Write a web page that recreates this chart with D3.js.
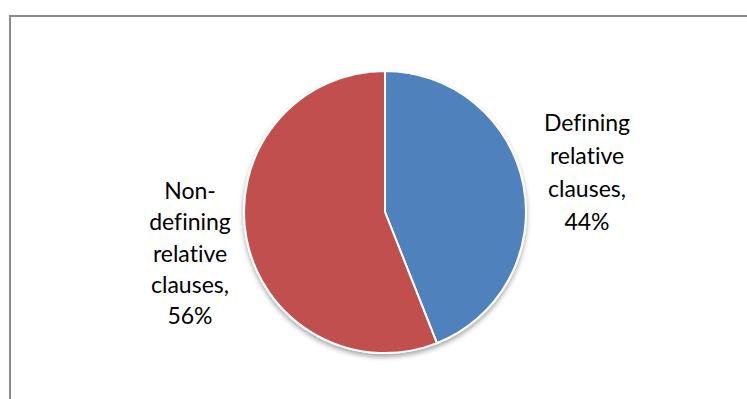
<!DOCTYPE html>
<html>
<head>
<meta charset="utf-8">
<script src="https://cdn.jsdelivr.net/npm/d3@7"></script>
<style>
  body { margin: 0; background: #fff; }
  .slice-label { font-family: "Lato", "Open Sans", sans-serif; font-size: 23px; fill: #000; font-variant-ligatures: none; }
</style>
</head>
<body>
<div id="pie-chart"></div>
<script>
// Chart data
const categories = ["Defining relative clauses", "Non-defining relative clauses"];
const values = [44, 56];
const colors = ["#4F81BD", "#C0504D"];
const labelLines = [
    ["Defining", "relative", "clauses,", "44%"],
    ["Non-", "defining", "relative", "clauses,", "56%"]
];

function createPieChart() {
    const width = 747, height = 399;
    const cx = 385, cy = 212, radius = 141;

    const svg = d3.select("#pie-chart")
        .append("svg")
        .attr("width", width)
        .attr("height", height);

    // Chart area frame (top and left edges only are visible)
    svg.append("line")
        .attr("x1", 9).attr("y1", 16).attr("x2", 747).attr("y2", 16)
        .attr("stroke", "#8c8c8c").attr("stroke-width", 2);
    svg.append("line")
        .attr("x1", 10).attr("y1", 15).attr("x2", 10).attr("y2", 399)
        .attr("stroke", "#8c8c8c").attr("stroke-width", 2);

    // Soft shadow under the pie
    const defs = svg.append("defs");
    const filter = defs.append("filter").attr("id", "shadow")
        .attr("x", "-20%").attr("y", "-20%").attr("width", "140%").attr("height", "140%");
    filter.append("feGaussianBlur").attr("in", "SourceAlpha").attr("stdDeviation", 2.5);
    filter.append("feOffset").attr("dx", 0).attr("dy", 3).attr("result", "b");
    filter.append("feComponentTransfer").append("feFuncA").attr("type", "linear").attr("slope", 0.35);
    const merge = filter.append("feMerge");
    merge.append("feMergeNode");
    merge.append("feMergeNode").attr("in", "SourceGraphic");

    const data = categories.map((c, i) => ({ category: c, value: values[i], color: colors[i], lines: labelLines[i] }));

    const pie = d3.pie().sort(null).value(d => d.value);
    const arc = d3.arc().innerRadius(0).outerRadius(radius);

    const g = svg.append("g")
        .attr("transform", `translate(${cx},${cy})`)
        .attr("filter", "url(#shadow)");

    g.selectAll("path")
        .data(pie(data))
        .enter().append("path")
        .attr("d", arc)
        .attr("fill", d => d.data.color)
        .attr("stroke", "#fff")
        .attr("stroke-width", 2)
        .attr("stroke-linejoin", "round");

    // Labels outside the pie
    const labelPos = [
        { x: 587, y: 131, lh: 33 },
        { x: 190, y: 199, lh: 31.3 }
    ];
    data.forEach((d, i) => {
        const t = svg.append("text")
            .attr("class", "slice-label")
            .attr("text-anchor", "middle");
        d.lines.forEach((line, j) => {
            t.append("tspan")
                .attr("x", labelPos[i].x)
                .attr("y", labelPos[i].y + j * labelPos[i].lh)
                .text(line);
        });
    });
}

createPieChart();
</script>
</body>
</html>
